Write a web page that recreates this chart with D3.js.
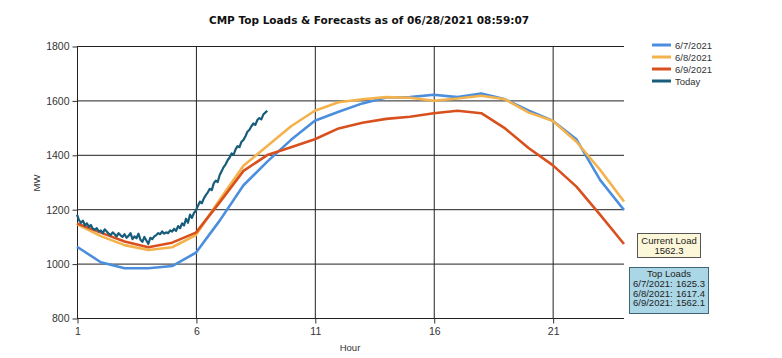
<!DOCTYPE html>
<html>
<head>
  <meta charset="utf-8">
  <script src="https://d3js.org/d3.v7.min.js"></script>
  <style>
    body { margin: 0; background: #fff; }
    .axis { color: #333; }
    .axis text { font-family: "Liberation Sans", Arial, sans-serif; font-size: 10.5px; fill: #333; }
    .grid line { stroke: #222; stroke-width: 1; }
    .title { font-family: "DejaVu Sans", Verdana, sans-serif; font-weight: bold; font-size: 10.5px; fill: #111; }
    .lbl { font-family: "Liberation Sans", Arial, sans-serif; font-size: 9.5px; fill: #333; }
    .box { font-family: "Liberation Sans", Arial, sans-serif; font-size: 9.5px; fill: #222; }
  </style>
</head>
<body>
  <script>
    // hours 1..24 of the three forecast days
    var hours = d3.range(1, 25);
    var load0607 = [1062, 1005, 983, 983, 991, 1040, 1158, 1288, 1375, 1455, 1525, 1558, 1589, 1611, 1612, 1621, 1612, 1625, 1604, 1562, 1525, 1457, 1307, 1197];
    var load0608 = [1145, 1101, 1068, 1050, 1060, 1105, 1235, 1360, 1432, 1505, 1562, 1593, 1604, 1612, 1610, 1599, 1607, 1617, 1604, 1555, 1525, 1448, 1344, 1228];
    var load0609 = [1148, 1114, 1081, 1060, 1077, 1114, 1225, 1341, 1399, 1428, 1457, 1497, 1518, 1532, 1540, 1553, 1562, 1553, 1497, 1424, 1362, 1283, 1179, 1072];

    // today's actual load, 5 minute steps from hour 1 to hour 9
    var todayStart = 1, todayStep = 1 / 12;
    var today = [
      1180, 1160, 1150, 1158, 1140, 1148, 1135, 1142, 1128, 1125, 1130, 1118,
      1122, 1112, 1126, 1118, 1110, 1105, 1115, 1108, 1100, 1112, 1104, 1098,
      1108, 1095, 1102, 1112, 1090, 1100, 1093, 1110, 1088, 1080, 1098, 1085,
      1072, 1095, 1090, 1100, 1105, 1112, 1108, 1118, 1110, 1115, 1112, 1122,
      1118, 1128, 1120, 1138, 1130, 1148, 1140, 1165, 1150, 1180, 1168, 1186,
      1195, 1212, 1228, 1222, 1240, 1252, 1262, 1275, 1270, 1295, 1305, 1300,
      1326, 1340, 1355, 1365, 1380, 1390, 1405, 1400, 1420, 1432, 1428, 1448,
      1455, 1468, 1485, 1492, 1505, 1515, 1510, 1528, 1535, 1530, 1548, 1555,
      1562.3
    ];

    var seriesNames = ["6/7/2021", "6/8/2021", "6/9/2021", "Today"];
    var seriesColors = ["#4b8ede", "#f4b24c", "#d9501f", "#175d7b"];
    var yTicks = [800, 1000, 1200, 1400, 1600, 1800];
    var xTicks = [1, 6, 11, 16, 21];
    var currentLoad = "1562.3";
    var topLoads = [["6/7/2021:", "1625.3"], ["6/8/2021:", "1617.4"], ["6/9/2021:", "1562.1"]];

    var W = 782, H = 358;
    var plotL = 77, plotR = 624, plotT = 46, plotB = 318;

    var svg = d3.select("body").append("svg")
        .attr("width", W)
        .attr("height", H);

    var x = d3.scaleLinear().domain([1, 24]).range([plotL, plotR]);
    var y = d3.scaleLinear().domain([800, 1800]).range([plotB, plotT]);

    // grid
    var grid = svg.append("g").attr("class", "grid");
    grid.selectAll(".h").data(yTicks).enter().append("line")
        .attr("x1", plotL).attr("x2", plotR)
        .attr("y1", function(d) { return y(d) + 0.5; })
        .attr("y2", function(d) { return y(d) + 0.5; });
    grid.selectAll(".v").data(xTicks).enter().append("line")
        .attr("y1", plotT).attr("y2", plotB)
        .attr("x1", function(d) { return x(d) + 0.5; })
        .attr("x2", function(d) { return x(d) + 0.5; });

    // axes
    svg.append("g")
        .attr("class", "axis")
        .attr("transform", "translate(" + (plotL + 0.5) + ",0.5)")
        .call(d3.axisLeft(y).tickValues(yTicks).tickFormat(d3.format("d")).tickSize(5).tickPadding(3))
        .select(".domain").remove();
    svg.append("g")
        .attr("class", "axis")
        .attr("transform", "translate(0.5," + (plotB + 0.5) + ")")
        .call(d3.axisBottom(x).tickValues(xTicks).tickFormat(d3.format("d")).tickSize(5).tickPadding(4))
        .select(".domain").remove();

    // lines
    var line = d3.line()
        .x(function(d) { return x(d[0]); })
        .y(function(d) { return y(d[1]); });

    var forecast = [load0607, load0608, load0609];
    forecast.forEach(function(vals, i) {
      svg.append("path")
          .datum(vals.map(function(v, j) { return [hours[j], v]; }))
          .attr("fill", "none")
          .attr("stroke", seriesColors[i])
          .attr("stroke-width", 2.6)
          .attr("stroke-linejoin", "round")
          .attr("d", line);
    });

    svg.append("path")
        .datum(today.map(function(v, j) { return [todayStart + j * todayStep, v]; }))
        .attr("fill", "none")
        .attr("stroke", seriesColors[3])
        .attr("stroke-width", 2.2)
        .attr("stroke-linejoin", "round")
        .attr("d", line);

    // title and axis labels
    svg.append("text").attr("class", "title")
        .attr("x", 369).attr("y", 24)
        .attr("text-anchor", "middle")
        .text("CMP Top Loads & Forecasts as of 06/28/2021 08:59:07");

    svg.append("text").attr("class", "lbl")
        .attr("x", 350).attr("y", 351)
        .attr("text-anchor", "middle")
        .text("Hour");

    svg.append("text").attr("class", "lbl")
        .attr("transform", "translate(40,183) rotate(-90)")
        .attr("text-anchor", "middle")
        .text("MW");

    // legend
    var legend = svg.selectAll(".leg").data(seriesNames).enter().append("g")
        .attr("transform", function(d, i) { return "translate(652," + (45 + i * 12) + ")"; });
    legend.append("line")
        .attr("x1", 0).attr("x2", 19)
        .attr("stroke", function(d, i) { return seriesColors[i]; })
        .attr("stroke-width", 3);
    legend.append("text").attr("class", "lbl")
        .attr("x", 23).attr("y", 3.5)
        .text(function(d) { return d; });

    // current load box
    svg.append("rect")
        .attr("x", 637.5).attr("y", 233.5).attr("width", 63).attr("height", 24)
        .attr("fill", "#fbf7d8").attr("stroke", "#555");
    svg.append("text").attr("class", "box")
        .attr("x", 669).attr("y", 244).attr("text-anchor", "middle").text("Current Load");
    svg.append("text").attr("class", "box")
        .attr("x", 669).attr("y", 254).attr("text-anchor", "middle").text(currentLoad);

    // top loads box
    svg.append("rect")
        .attr("x", 629.5).attr("y", 267.5).attr("width", 79).attr("height", 46)
        .attr("fill", "#aad6e6").attr("stroke", "#3d6676");
    svg.append("text").attr("class", "box")
        .attr("x", 669).attr("y", 277).attr("text-anchor", "middle").text("Top Loads");
    topLoads.forEach(function(r, i) {
      svg.append("text").attr("class", "box")
          .attr("x", 633).attr("y", 287 + i * 9.5).text(r[0]);
      svg.append("text").attr("class", "box")
          .attr("x", 705).attr("y", 287 + i * 9.5).attr("text-anchor", "end").text(r[1]);
    });
  </script>
</body>
</html>
